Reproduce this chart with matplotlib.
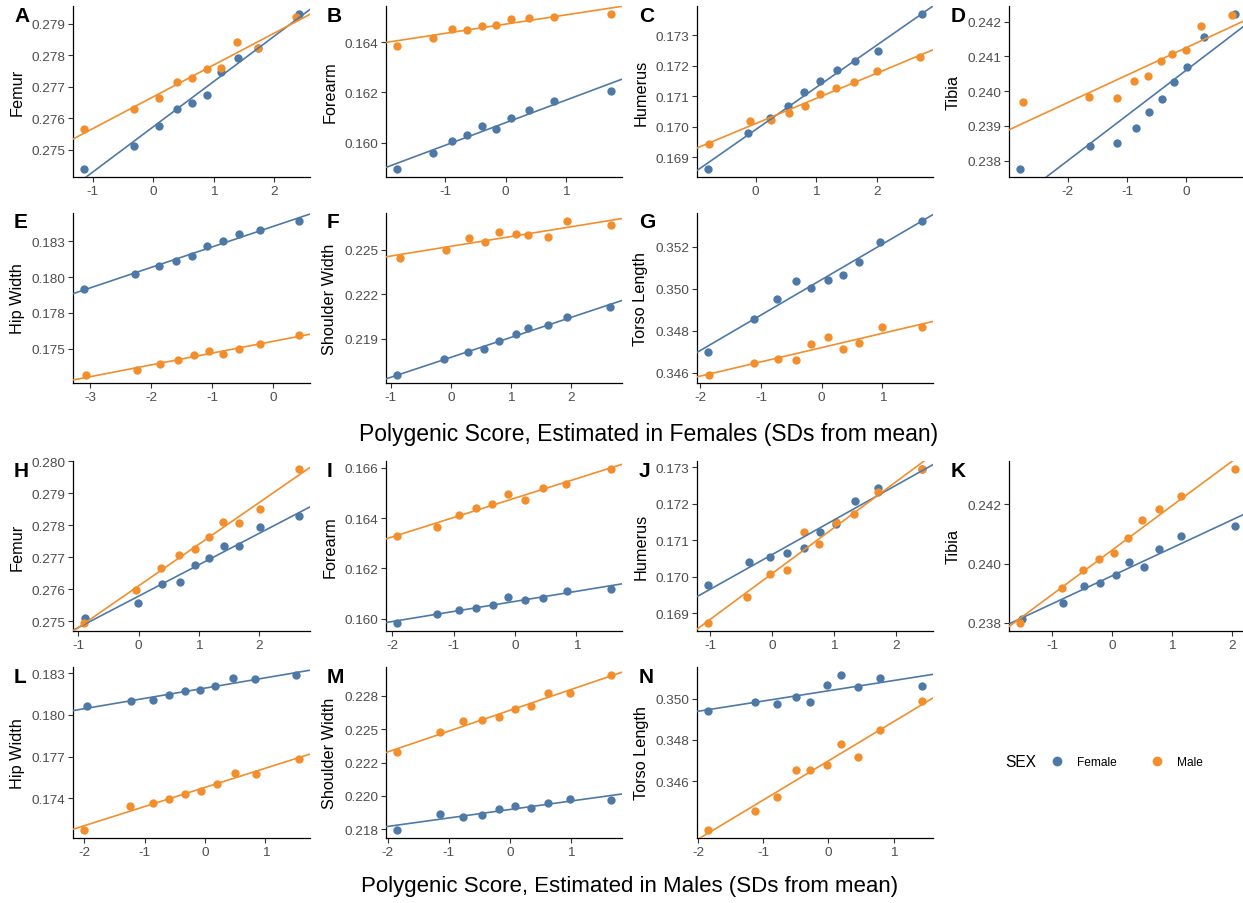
import numpy as np
import matplotlib
matplotlib.use("Agg")
import matplotlib.pyplot as plt
from matplotlib.lines import Line2D

plt.rcParams["font.family"] = ["Liberation Sans", "DejaVu Sans"]

FEMALE_COLOR = "#4E79A7"
MALE_COLOR = "#F28E2B"

# --- score estimated in females ---
A_XF = [-1.15, -0.31, 0.09, 0.39, 0.65, 0.89, 1.13, 1.41, 1.74, 2.42]
A_YF = [0.27438, 0.27512, 0.27575, 0.27628, 0.27649, 0.27672, 0.27746, 0.27792, 0.27822, 0.27931]
A_XM = [-1.15, -0.32, 0.09, 0.39, 0.65, 0.89, 1.13, 1.39, 1.74, 2.37]
A_YM = [0.27567, 0.27628, 0.27664, 0.27714, 0.27728, 0.27755, 0.27759, 0.27842, 0.27822, 0.27920]

B_XF = [-1.80, -1.20, -0.88, -0.63, -0.39, -0.15, 0.09, 0.39, 0.81, 1.75]
B_YF = [0.15894, 0.15960, 0.16008, 0.16031, 0.16065, 0.16053, 0.16099, 0.16129, 0.16167, 0.16205]
B_XM = [-1.79, -1.20, -0.89, -0.63, -0.39, -0.15, 0.09, 0.39, 0.80, 1.75]
B_YM = [0.16383, 0.16417, 0.16454, 0.16449, 0.16466, 0.16470, 0.16494, 0.16498, 0.16499, 0.16513]

C_XF = [-0.79, -0.12, 0.24, 0.54, 0.80, 1.06, 1.34, 1.64, 2.02, 2.75]
C_YF = [0.16861, 0.16980, 0.17029, 0.17069, 0.17113, 0.17149, 0.17186, 0.17216, 0.17248, 0.17371]
C_XM = [-0.77, -0.10, 0.25, 0.55, 0.81, 1.06, 1.33, 1.63, 2.00, 2.72]
C_YM = [0.16944, 0.17018, 0.17021, 0.17046, 0.17069, 0.17107, 0.17128, 0.17146, 0.17184, 0.17228]

D_XF = [-2.81, -1.63, -1.16, -0.85, -0.62, -0.40, -0.20, 0.01, 0.30, 0.83]
D_YF = [0.23775, 0.23841, 0.23851, 0.23893, 0.23939, 0.23978, 0.24027, 0.24069, 0.24155, 0.24223]
D_XM = [-2.76, -1.64, -1.17, -0.88, -0.64, -0.43, -0.23, -0.01, 0.26, 0.78]
D_YM = [0.23968, 0.23982, 0.23979, 0.24028, 0.24043, 0.24086, 0.24107, 0.24118, 0.24189, 0.24220]

E_XF = [-3.11, -2.27, -1.88, -1.59, -1.33, -1.08, -0.83, -0.56, -0.21, 0.43]
E_YF = [0.17919, 0.18021, 0.18074, 0.18111, 0.18148, 0.18215, 0.18250, 0.18301, 0.18329, 0.18394]
E_XM = [-3.08, -2.23, -1.85, -1.56, -1.30, -1.06, -0.83, -0.56, -0.22, 0.42]
E_YM = [0.17313, 0.17347, 0.17389, 0.17421, 0.17458, 0.17482, 0.17461, 0.17498, 0.17530, 0.17595]

F_XF = [-0.90, -0.11, 0.29, 0.56, 0.81, 1.09, 1.29, 1.61, 1.94, 2.65]
F_YF = [0.21655, 0.21762, 0.21809, 0.21829, 0.21884, 0.21936, 0.21971, 0.21991, 0.22045, 0.22116]
F_XM = [-0.84, -0.08, 0.30, 0.57, 0.80, 1.08, 1.29, 1.61, 1.94, 2.67]
F_YM = [0.22442, 0.22502, 0.22578, 0.22551, 0.22621, 0.22605, 0.22600, 0.22589, 0.22696, 0.22667]

G_XF = [-1.88, -1.12, -0.73, -0.43, -0.18, 0.10, 0.35, 0.61, 0.97, 1.65]
G_YF = [0.34698, 0.34854, 0.34953, 0.35036, 0.35002, 0.35043, 0.35063, 0.35129, 0.35222, 0.35323]
G_XM = [-1.86, -1.12, -0.72, -0.42, -0.18, 0.11, 0.35, 0.62, 0.99, 1.66]
G_YM = [0.34589, 0.34647, 0.34668, 0.34663, 0.34739, 0.34772, 0.34713, 0.34743, 0.34816, 0.34816]

# --- score estimated in males ---
H_XF = [-0.89, -0.01, 0.39, 0.69, 0.94, 1.17, 1.41, 1.67, 2.01, 2.66]
H_YF = [0.27508, 0.27557, 0.27615, 0.27622, 0.27676, 0.27697, 0.27734, 0.27735, 0.27796, 0.27829]
H_XM = [-0.91, -0.05, 0.37, 0.67, 0.93, 1.16, 1.40, 1.67, 2.01, 2.65]
H_YM = [0.27493, 0.27598, 0.27666, 0.27706, 0.27725, 0.27763, 0.27810, 0.27808, 0.27850, 0.27977]

I_XF = [-1.93, -1.28, -0.91, -0.63, -0.36, -0.11, 0.16, 0.46, 0.85, 1.57]
I_YF = [0.15982, 0.16019, 0.16034, 0.16042, 0.16054, 0.16085, 0.16075, 0.16083, 0.16111, 0.16119]
I_XM = [-1.93, -1.28, -0.92, -0.64, -0.37, -0.11, 0.16, 0.46, 0.83, 1.57]
I_YM = [0.16328, 0.16367, 0.16411, 0.16441, 0.16456, 0.16497, 0.16473, 0.16521, 0.16538, 0.16597]

J_XF = [-1.04, -0.38, -0.04, 0.25, 0.51, 0.77, 1.04, 1.34, 1.72, 2.43]
J_YF = [0.16979, 0.17042, 0.17055, 0.17066, 0.17078, 0.17124, 0.17144, 0.17209, 0.17242, 0.17294]
J_XM = [-1.04, -0.40, -0.04, 0.24, 0.51, 0.76, 1.03, 1.33, 1.72, 2.43]
J_YM = [0.16873, 0.16946, 0.17009, 0.17018, 0.17123, 0.17089, 0.17149, 0.17173, 0.17233, 0.17296]

K_XF = [-1.50, -0.82, -0.47, -0.20, 0.06, 0.28, 0.53, 0.79, 1.16, 2.06]
K_YF = [0.23811, 0.23865, 0.23924, 0.23935, 0.23963, 0.24005, 0.23990, 0.24051, 0.24092, 0.24126]
K_XM = [-1.54, -0.83, -0.48, -0.21, 0.04, 0.26, 0.51, 0.78, 1.15, 2.06]
K_YM = [0.23798, 0.23916, 0.23979, 0.24015, 0.24036, 0.24085, 0.24149, 0.24184, 0.24229, 0.24321]

L_XF = [-1.95, -1.22, -0.87, -0.59, -0.34, -0.09, 0.17, 0.46, 0.82, 1.50]
L_YF = [0.18065, 0.18096, 0.18103, 0.18139, 0.18170, 0.18175, 0.18209, 0.18264, 0.18257, 0.18288]
L_XM = [-2.01, -1.24, -0.87, -0.59, -0.33, -0.07, 0.19, 0.49, 0.85, 1.56]
L_YM = [0.17170, 0.17345, 0.17364, 0.17395, 0.17434, 0.17450, 0.17503, 0.17585, 0.17575, 0.17683]

M_XF = [-1.85, -1.14, -0.76, -0.46, -0.18, 0.09, 0.35, 0.62, 0.99, 1.66]
M_YF = [0.21742, 0.21864, 0.21841, 0.21856, 0.21902, 0.21924, 0.21909, 0.21947, 0.21977, 0.21970]
M_XM = [-1.85, -1.14, -0.76, -0.46, -0.18, 0.09, 0.35, 0.62, 0.99, 1.66]
M_YM = [0.22333, 0.22477, 0.22561, 0.22568, 0.22591, 0.22652, 0.22674, 0.22773, 0.22773, 0.22909]

N_XF = [-1.85, -1.13, -0.79, -0.50, -0.28, -0.02, 0.20, 0.45, 0.79, 1.44]
N_YF = [0.34942, 0.34985, 0.34976, 0.35010, 0.34985, 0.35068, 0.35117, 0.35059, 0.35102, 0.35063]
N_XM = [-1.85, -1.13, -0.79, -0.50, -0.28, -0.02, 0.20, 0.45, 0.79, 1.44]
N_YM = [0.34361, 0.34454, 0.34522, 0.34654, 0.34654, 0.34678, 0.34781, 0.34717, 0.34849, 0.34990]

# y ticks (positions, labels) per panel
A_TICKS = [0.275, 0.276, 0.277, 0.278, 0.279]
B_TICKS = [0.160, 0.162, 0.164]
C_TICKS = [0.169, 0.170, 0.171, 0.172, 0.173]
D_TICKS = [0.238, 0.239, 0.240, 0.241, 0.242]
E_TICKS = [0.1750, 0.1775, 0.1800, 0.1825]
E_LABELS = ["0.175", "0.178", "0.180", "0.183"]
F_TICKS = [0.219, 0.222, 0.225]
G_TICKS = [0.346, 0.348, 0.350, 0.352]
H_TICKS = [0.275, 0.276, 0.277, 0.278, 0.279, 0.280]
I_TICKS = [0.160, 0.162, 0.164, 0.166]
J_TICKS = [0.169, 0.170, 0.171, 0.172, 0.173]
K_TICKS = [0.238, 0.240, 0.242]
L_TICKS = [0.174, 0.177, 0.180, 0.183]
M_TICKS = [0.2175, 0.2200, 0.2225, 0.2250, 0.2275]
M_LABELS = ["0.218", "0.220", "0.222", "0.225", "0.228"]
N_TICKS = [0.346, 0.348, 0.350]

W, H = 1243, 904
COLS = [(73, 310), (386, 622), (697, 933), (1009, 1246)]
ROWS = [(7, 178), (214, 384), (462, 632), (668, 839)]
LETTER_X = [14, 327, 639, 951]
LETTER_BASE = [22, 228, 477, 683]


def draw_panel(fig, row, col, letter, ylabel, xf, yf, xm, ym, ticks, labels=None):
    l, r = COLS[col]
    t, b = ROWS[row]
    ax = fig.add_axes([l / W, 1 - b / H, (r - l) / W, (b - t) / H])
    xf, yf, xm, ym = map(np.asarray, (xf, yf, xm, ym))
    ax.scatter(xf, yf, s=36, color=FEMALE_COLOR, linewidths=0, zorder=2)
    ax.scatter(xm, ym, s=36, color=MALE_COLOR, linewidths=0, zorder=2)

    allx = np.r_[xf, xm]
    ally = np.r_[yf, ym]
    dx = (allx.max() - allx.min()) * 0.05
    dy = (ally.max() - ally.min()) * 0.05
    xlim = (allx.min() - dx, allx.max() + dx)
    ylim = (ally.min() - dy, ally.max() + dy)

    xs = np.array(xlim)
    for x, y, c in ((xf, yf, FEMALE_COLOR), (xm, ym, MALE_COLOR)):
        k, b0 = np.polyfit(x, y, 1)
        ax.plot(xs, k * xs + b0, color=c, lw=1.2, zorder=3)

    ax.set_xlim(xlim)
    ax.set_ylim(ylim)
    # integer ticks that land inside the visible figure
    xt = np.arange(np.ceil(xlim[0]), np.floor(xlim[1]) + 1)
    px = l + (xt - xlim[0]) / (xlim[1] - xlim[0]) * (r - l)
    xt = xt[px < W - 6]
    ax.set_xticks(xt)
    ax.set_xticklabels([str(int(v)) for v in xt])
    ax.set_yticks(ticks)
    ax.set_yticklabels(labels if labels else [f"{v:.3f}" for v in ticks])

    for s in ("top", "right"):
        ax.spines[s].set_visible(False)
    for s in ("left", "bottom"):
        ax.spines[s].set_linewidth(0.9)
        ax.spines[s].set_color("black")
    ax.tick_params(length=3.5, width=0.8, color="#333333", labelcolor="#4D4D4D",
                   labelsize=9.7, pad=2)
    ax.set_ylabel(ylabel, fontsize=11.7, labelpad=5)
    fig.text(LETTER_X[col] / W, 1 - LETTER_BASE[row] / H, letter, fontsize=15,
             fontweight="bold", ha="left", va="baseline")
    return ax


def main():
    fig = plt.figure(figsize=(W / 100, H / 100), dpi=100)

    draw_panel(fig, 0, 0, "A", "Femur", A_XF, A_YF, A_XM, A_YM, A_TICKS)
    draw_panel(fig, 0, 1, "B", "Forearm", B_XF, B_YF, B_XM, B_YM, B_TICKS)
    draw_panel(fig, 0, 2, "C", "Humerus", C_XF, C_YF, C_XM, C_YM, C_TICKS)
    draw_panel(fig, 0, 3, "D", "Tibia", D_XF, D_YF, D_XM, D_YM, D_TICKS)
    draw_panel(fig, 1, 0, "E", "Hip Width", E_XF, E_YF, E_XM, E_YM, E_TICKS, E_LABELS)
    draw_panel(fig, 1, 1, "F", "Shoulder Width", F_XF, F_YF, F_XM, F_YM, F_TICKS)
    draw_panel(fig, 1, 2, "G", "Torso Length", G_XF, G_YF, G_XM, G_YM, G_TICKS)

    draw_panel(fig, 2, 0, "H", "Femur", H_XF, H_YF, H_XM, H_YM, H_TICKS)
    draw_panel(fig, 2, 1, "I", "Forearm", I_XF, I_YF, I_XM, I_YM, I_TICKS)
    draw_panel(fig, 2, 2, "J", "Humerus", J_XF, J_YF, J_XM, J_YM, J_TICKS)
    draw_panel(fig, 2, 3, "K", "Tibia", K_XF, K_YF, K_XM, K_YM, K_TICKS)
    draw_panel(fig, 3, 0, "L", "Hip Width", L_XF, L_YF, L_XM, L_YM, L_TICKS)
    draw_panel(fig, 3, 1, "M", "Shoulder Width", M_XF, M_YF, M_XM, M_YM, M_TICKS, M_LABELS)
    draw_panel(fig, 3, 2, "N", "Torso Length", N_XF, N_YF, N_XM, N_YM, N_TICKS)

    fig.text(649 / W, 1 - 435 / H, "Polygenic Score, Estimated in Females (SDs from mean)",
             ha="center", va="center", fontsize=16.5)
    fig.text(630 / W, 1 - 887 / H, "Polygenic Score, Estimated in Males (SDs from mean)",
             ha="center", va="center", fontsize=16)

    # legend
    fig.text(1005 / W, 1 - 763 / H, "SEX", fontsize=11.2, ha="left", va="center")
    handles = [
        Line2D([], [], marker="o", ls="", color=FEMALE_COLOR, markersize=6, label="Female"),
        Line2D([], [], marker="o", ls="", color=MALE_COLOR, markersize=6, label="Male"),
    ]
    fig.legend(handles=handles, ncol=2, loc="center left",
               bbox_to_anchor=(1051 / W, 1 - 763 / H), frameon=False, fontsize=8.6,
               handlelength=1, handletextpad=1.2, columnspacing=2.85,
               borderpad=0, borderaxespad=0)

    fig.savefig("out.png", dpi=100)


if __name__ == "__main__":
    main()
